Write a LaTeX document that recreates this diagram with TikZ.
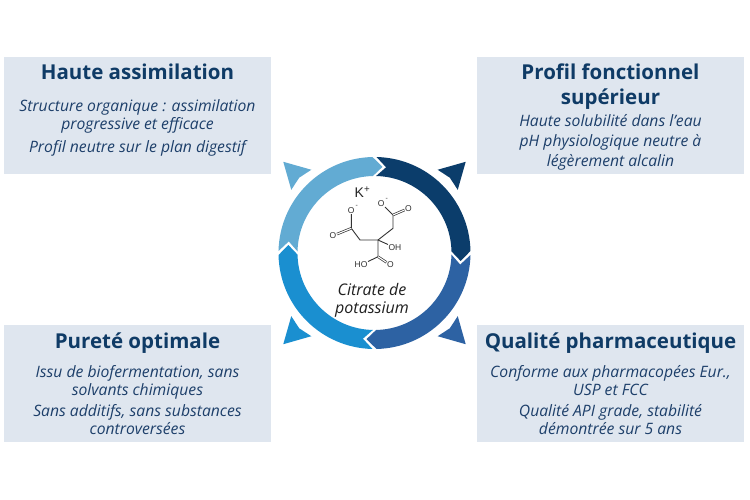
\documentclass[tikz,border=0pt]{standalone}
\usepackage{fontspec}
\setmainfont{Open Sans}
\newfontfamily\molfont{Liberation Sans}
\definecolor{boxfill}{HTML}{DFE6EF}
\definecolor{titlec}{HTML}{0F3B66}
\definecolor{bodyc}{HTML}{1D3F6A}
\definecolor{segA}{HTML}{62ABD3}
\definecolor{segB}{HTML}{0B3D6B}
\definecolor{segC}{HTML}{2D62A3}
\definecolor{segD}{HTML}{1A8FD0}
\tikzset{
  infobox/.style={fill=boxfill, draw=none, minimum width=267, minimum height=117, inner sep=0},
  ttl/.style={font=\fontsize{20.5}{24}\selectfont\bfseries, text=titlec, anchor=base, inner sep=0},
  bdy/.style={font=\fontsize{15.7}{18}\selectfont\itshape, text=bodyc, anchor=base, inner sep=0},
  ctr/.style={font=\fontsize{16}{19}\selectfont\itshape, text=black!88, anchor=base, inner sep=0},
  atom/.style={font=\molfont\fontsize{8.5}{9}\selectfont, text=black!80, inner sep=0.5pt},
  bond/.style={draw=black!80, line width=0.9pt},
  dbond/.style={draw=black!80, double=white, double distance=1.1pt, line width=0.7pt},
}
\begin{document}
\begin{tikzpicture}[x=1pt,y=1pt]
\useasboundingbox (0,0) rectangle (750,500);
\fill[white] (0,0) rectangle (750,500);

% boxes
\node[infobox] (boxTL) at (137.5,384.5) {};
\node[infobox] (boxTR) at (610.5,384.5) {};
\node[infobox] (boxBL) at (137.5,116.5) {};
\node[infobox] (boxBR) at (610.5,116.5) {};

% top-left text
\node[ttl] (tlT) at (137.5,420) {Haute assimilation};
\node[bdy] (tl1) at (137.5,388) {Structure organique : assimilation};
\node[bdy] (tl2) at (137.5,370) {progressive et efficace};
\node[bdy] (tl3) at (137.5,347) {Profil neutre sur le plan digestif};

% top-right text
\node[ttl] (trT1) at (610.5,420) {Profil fonctionnel};
\node[ttl] (trT2) at (610.5,395) {supérieur};
\node[bdy] (tr1) at (610.5,373) {Haute solubilité dans l’eau};
\node[bdy] (tr2) at (610.5,353) {pH physiologique neutre à};
\node[bdy] (tr3) at (610.5,333.5) {légèrement alcalin};

% bottom-left text
\node[ttl] (blT) at (137.5,151) {Pureté optimale};
\node[bdy] (bl1) at (137.5,122) {Issu de biofermentation, sans};
\node[bdy] (bl2) at (137.5,104.5) {solvants chimiques};
\node[bdy] (bl3) at (137.5,83.5) {Sans additifs, sans substances};
\node[bdy] (bl4) at (137.5,65) {controversées};

% bottom-right text
\node[ttl] (brT) at (610.5,151) {Qualité pharmaceutique};
\node[bdy] (br1) at (610.5,122) {Conforme aux pharmacopées Eur.,};
\node[bdy] (br2) at (610.5,104.5) {USP et FCC};
\node[bdy] (br3) at (610.5,83.5) {Qualité API grade, stabilité};
\node[bdy] (br4) at (610.5,65) {démontrée sur 5 ans};

% ring
\begin{scope}[shift={(374.5,247)}]
  \fill[segA] (178.8:96) arc[start angle=178.8, end angle=91.2, radius=96] -- (84.7:86.5) -- (91.2:77) arc[start angle=91.2, end angle=178.8, radius=77] -- (172.3:86.5) -- cycle;
  \fill[segB] (88.8:96) arc[start angle=88.8, end angle=1.2, radius=96] -- (-5.3:86.5) -- (1.2:77) arc[start angle=1.2, end angle=88.8, radius=77] -- (82.3:86.5) -- cycle;
  \fill[segC] (-1.2:96) arc[start angle=-1.2, end angle=-88.8, radius=96] -- (-95.3:86.5) -- (-88.8:77) arc[start angle=-88.8, end angle=-1.2, radius=77] -- (-7.7:86.5) -- cycle;
  \fill[segD] (-91.2:96) arc[start angle=-91.2, end angle=-178.8, radius=96] -- (-185.3:86.5) -- (-178.8:77) arc[start angle=-178.8, end angle=-91.2, radius=77] -- (-97.7:86.5) -- cycle;
  % corner arrowheads
  \fill[segA] (135:129) -- (127.2:104.5) -- (135:106.5) -- (142.8:104.5) -- cycle;
  \fill[segB] (45:129) -- (37.2:104.5) -- (45:106.5) -- (52.8:104.5) -- cycle;
  \fill[segC] (-45:129) -- (-52.8:104.5) -- (-45:106.5) -- (-37.2:104.5) -- cycle;
  \fill[segD] (-135:129) -- (-142.8:104.5) -- (-135:106.5) -- (-127.2:104.5) -- cycle;
\end{scope}

% centre label
\node[ctr] (cit1) at (372,204) {Citrate de};
\node[ctr] (cit2) at (372,186.5) {potassium};

% K+
\node[font=\molfont\fontsize{14}{15}\selectfont, text=black!85, anchor=base, inner sep=0] (kion) at (362.5,302) {K\textsuperscript{+}};

% citrate molecule
\coordinate (C0) at (378,260);
\coordinate (LCH) at (360,260);
\coordinate (LC) at (351.3,271.7);
\coordinate (RCH) at (393,271.7);
\coordinate (RC) at (393,285);
\coordinate (BC) at (378,243.3);
\node[atom, label={[atom,inner sep=0,yshift=-1pt]north east:\scalebox{0.8}{-}}] (LOm) at (351.3,289.5) {O};
\node[atom] (LOd) at (333,264.3) {O};
\node[atom, label={[atom,inner sep=0,yshift=-1pt]north east:\scalebox{0.8}{-}}] (ROm) at (381.3,296.7) {O};
\node[atom] (ROd) at (408.5,291.7) {O};
\node[atom] (OH) at (395,252.3) {OH};
\node[atom] (HO) at (361,235) {HO};
\node[atom] (BOd) at (390.5,235) {O};
\draw[bond] (C0) -- (LCH) -- (LC) -- (LOm);
\draw[dbond] (LC) -- (LOd);
\draw[bond] (C0) -- (RCH) -- (RC) -- (ROm);
\draw[dbond] (RC) -- (ROd);
\draw[bond] (C0) -- (OH);
\draw[bond] (C0) -- (BC) -- (HO);
\draw[dbond] (BC) -- (BOd);
\end{tikzpicture}
\end{document}
